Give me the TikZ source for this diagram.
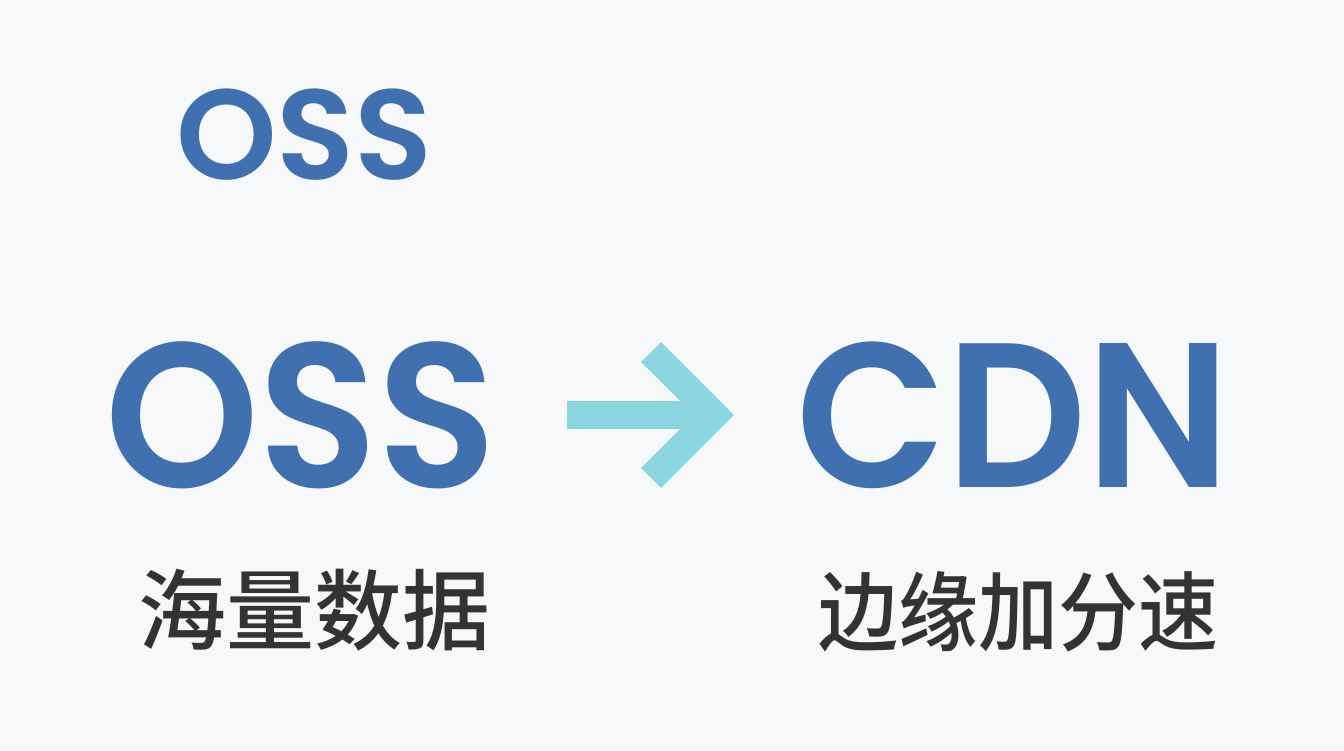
\documentclass[tikz,border=0pt]{standalone}
\usepackage{fontspec}
\setmainfont{Poppins}[UprightFont=* SemiBold]
\newfontfamily\cjk{Noto Sans CJK SC}[UprightFont=* Medium]
\definecolor{bgc}{HTML}{F6F8FA}
\definecolor{ossblue}{HTML}{4070B0}
\definecolor{arrowc}{HTML}{8AD5E0}
\definecolor{cjkc}{HTML}{333333}
\tikzset{
  bigword/.style={inner sep=0pt, anchor=base west, xscale=0.95, text=ossblue, font=\fontsize{206}{206}\selectfont},
  smallword/.style={inner sep=0pt, anchor=base west, text=ossblue, font=\fontsize{128}{128}\selectfont},
  cjkword/.style={inner sep=0pt, anchor=west, text=cjkc, font=\cjk\fontsize{88}{88}\selectfont},
  cjkwordb/.style={inner sep=0pt, anchor=west, yscale=1.08, text=cjkc, font=\cjk\fontsize{80}{80}\selectfont},
  arrowpart/.style={draw=arrowc, line width=28pt, line join=miter, line cap=butt}
}
\begin{document}
\begin{tikzpicture}[x=1pt,y=1pt]
\fill[bgc] (0,0) rectangle (1344,750);
\useasboundingbox (0,0) rectangle (1344,750);
\node[smallword] (top) at (176,570) {OSS};
\node[bigword] (oss) at (105,262) {OSS};
\node[bigword] (cdn) at (796,262) {CDN};
\node[cjkword] (hai) at (138,140) {海量数据};
\node[cjkwordb] (bian) at (818,138) {边缘加分速};
\coordinate (tail) at (567,335);
\coordinate (tip) at (714,335);
\draw[arrowpart] (tail) -- ([xshift=-10pt]tip);
\draw[arrowpart] ([shift={(-63,63)}]tip) -- (tip) -- ([shift={(-63,-63)}]tip);
\end{tikzpicture}
\end{document}
